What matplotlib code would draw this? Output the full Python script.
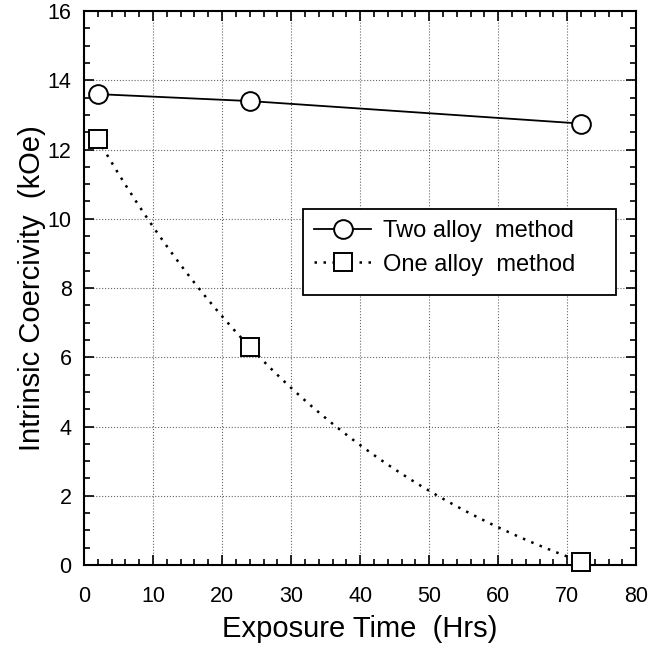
import numpy as np
import matplotlib
matplotlib.use("Agg")
import matplotlib.pyplot as plt
from matplotlib.ticker import MultipleLocator
from matplotlib.patches import Rectangle

plt.rcParams['font.family'] = ['Liberation Sans', 'DejaVu Sans']

# Data
two_x = [2, 24, 72]
two_y = [13.6, 13.4, 12.75]
one_x = [2, 24, 72]
one_y = [12.3, 6.3, 0.1]
x_ticks = [0, 10, 20, 30, 40, 50, 60, 70, 80]
y_ticks = [0, 2, 4, 6, 8, 10, 12, 14, 16]
labels = ['Two alloy  method', 'One alloy  method']

# Smooth trend curve for the one-alloy data: y = A*exp(-k x) + C fitted through the points
ox = np.array(one_x, float)
oy = np.array(one_y, float)
best = None
for C in np.linspace(-20, min(oy) - 1e-3, 20000):
    p = np.polyfit(ox, np.log(oy - C), 1)
    r = np.sum((np.exp(np.polyval(p, ox)) + C - oy) ** 2)
    if best is None or r < best[0]:
        best = (r, C, p)
_, C, p = best
xc = np.linspace(ox.min(), ox.max(), 300)
yc = np.exp(np.polyval(p, xc)) + C

dot_style = (0, (1, 2.6))

fig = plt.figure(figsize=(6.62, 6.49), dpi=100)
ax = fig.add_axes([0.127, 0.1294, 0.834, 0.8536])

ax.plot(two_x, two_y, '-', color='black', lw=1.3, zorder=3)
ax.plot(two_x, two_y, 'o', ms=13.5, mfc='white', mec='black', mew=1.4, zorder=4)
ax.plot(xc, yc, linestyle=dot_style, color='black', lw=1.8, zorder=3)
ax.plot(one_x, one_y, 's', ms=13, mfc='white', mec='black', mew=1.4, zorder=4,
        clip_on=False)

# legend proxies
h1, = ax.plot([], [], '-', color='black', lw=1.3, marker='o', ms=13.5,
              mfc='white', mec='black', mew=1.4)
h2, = ax.plot([], [], linestyle=dot_style, color='black', lw=1.8, marker='s', ms=13,
              mfc='white', mec='black', mew=1.4)
leg = ax.legend([h1, h2], labels,
                loc='upper left', bbox_to_anchor=(0.400, 0.640),
                fontsize=17, frameon=False, handlelength=2.4, borderpad=0.4,
                labelspacing=0.5, handletextpad=0.5, borderaxespad=0)
leg.set_zorder(6)
box = Rectangle((0.397, 0.487), 0.567, 0.155, transform=ax.transAxes,
                facecolor='white', edgecolor='black', lw=1.3, zorder=5)
ax.add_patch(box)

ax.set_xlim(0, 80)
ax.set_ylim(0, 16)
ax.set_xticks(x_ticks)
ax.set_yticks(y_ticks)
ax.xaxis.set_minor_locator(MultipleLocator(2))
ax.yaxis.set_minor_locator(MultipleLocator(0.5))
ax.tick_params(which='both', direction='in', top=True, right=True,
               labelsize=15.5, width=1.2, colors='black')
ax.tick_params(axis='x', which='both', pad=15)
ax.tick_params(axis='y', which='both', pad=9)
ax.tick_params(which='major', length=7)
ax.tick_params(which='minor', length=4)
for s in ax.spines.values():
    s.set_linewidth(1.5)
ax.grid(True, which='major', linestyle=':', color='black', lw=0.8, alpha=0.6)

ax.set_xlabel('Exposure Time  (Hrs)', fontsize=21, labelpad=6)
ax.set_ylabel('Intrinsic Coercivity  (kOe)', fontsize=21, labelpad=1)

fig.savefig('out.png', dpi=100)
